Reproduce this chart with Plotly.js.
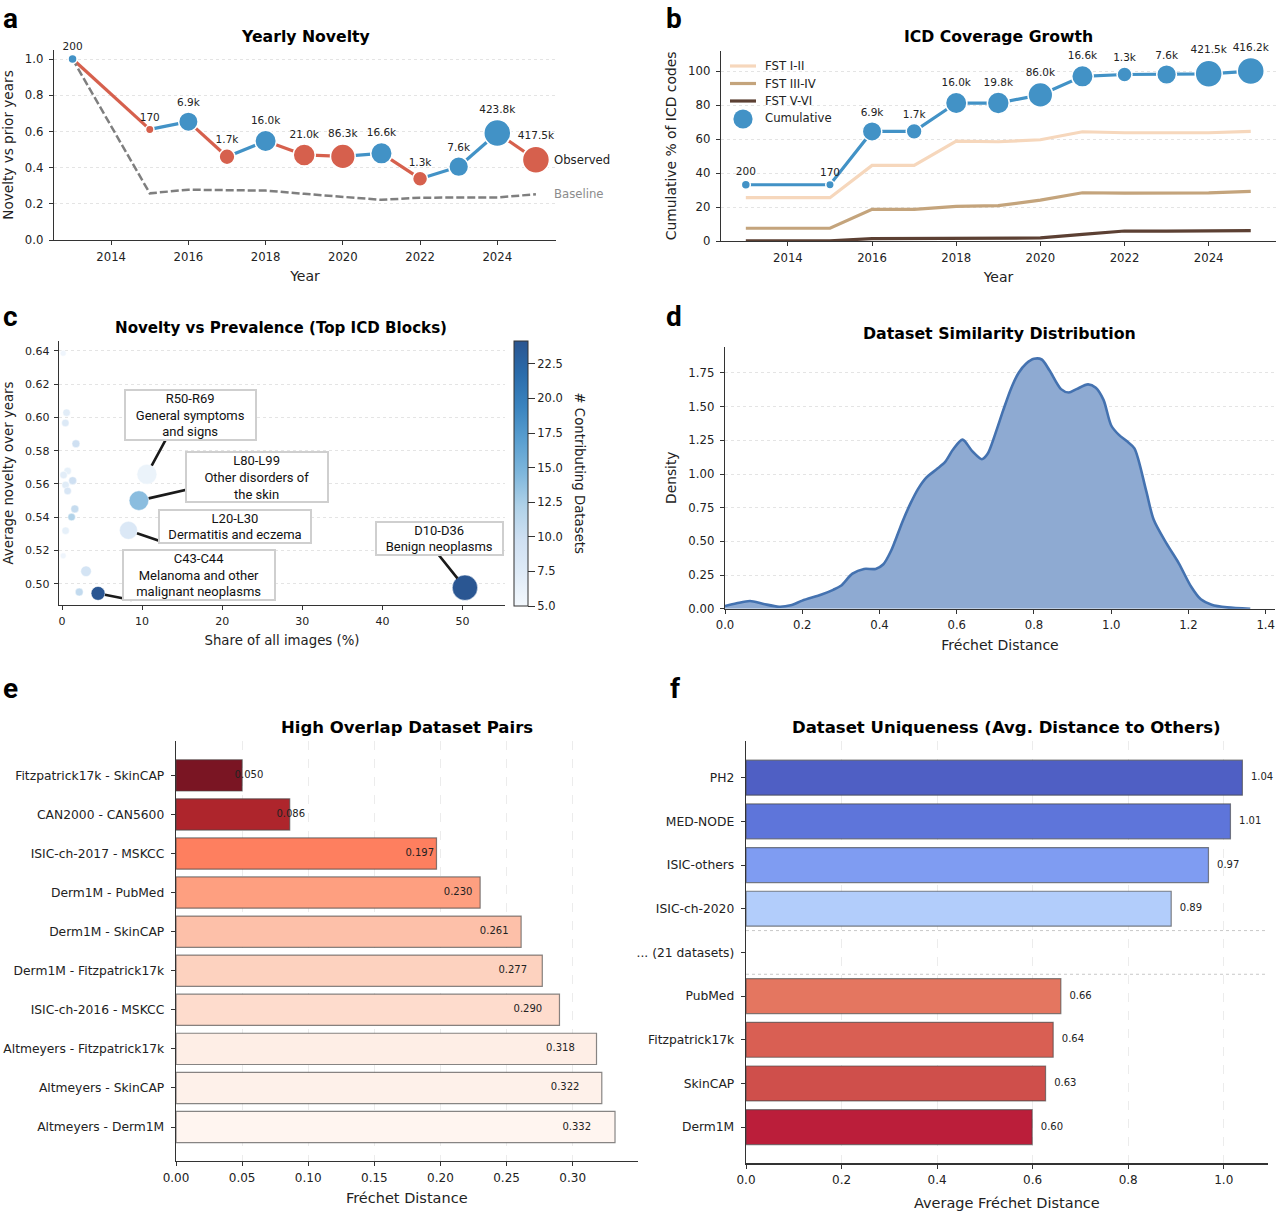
<!DOCTYPE html>
<html><head><meta charset="utf-8">
<script src="https://cdn.plot.ly/plotly-3.0.1.min.js"></script>
<style>html,body{margin:0;padding:0;background:#fff}#chart{width:1280px;height:1213px}</style>
</head><body><div id="chart"></div>
<script>
// ---------- data ----------
const noveltyYears = [2013,2015,2016,2017,2018,2019,2020,2021,2022,2023,2024,2025];
const noveltyObserved = [1.0,0.611,0.654,0.46,0.547,0.47,0.462,0.479,0.339,0.405,0.591,0.444];
const noveltyBaseline = [1.0,0.258,0.278,0.274,0.273,0.255,0.238,0.222,0.234,0.234,0.235,0.253];
const noveltyCounts = ['200','170','6.9k','1.7k','16.0k','21.0k','86.3k','16.6k','1.3k','7.6k','423.8k','417.5k'];

const coverageYears = [2013,2015,2016,2017,2018,2019,2020,2021,2022,2023,2024,2025];
const coverageCumulative = [33.1,33.1,64.5,64.5,81.2,81.2,86,96.9,98,98,98.4,100];
const coverageFst12 = [25.5,25.5,44.5,44.5,58.8,58.4,59.6,64.3,63.7,63.7,63.7,64.5];
const coverageFst34 = [7.5,7.5,18.6,18.6,20.4,20.8,24.1,28.4,28.2,28.2,28.3,29.2];
const coverageFst56 = [0.1,0.1,1.4,1.4,1.4,1.4,1.8,3.9,5.9,5.8,5.8,6.1];
const coverageCounts = ['200','170','6.9k','1.7k','16.0k','19.8k','86.0k','16.6k','1.3k','7.6k','421.5k','416.2k'];

const blockShare = [0.15,0.57,0.42,1.74,0.7,0.2,1.33,0.45,0.7,1.6,1.2,0.45,0.15,3.0,2.15,4.5,50.3,8.3,9.6,10.6];
const blockNovelty = [0.6386,0.6029,0.5967,0.5842,0.5678,0.5654,0.562,0.5594,0.5558,0.545,0.5401,0.5319,0.5168,0.5075,0.495,0.4942,0.4976,0.5321,0.55,0.5658];
const blockDatasets = [5.5,7.2,7.8,9.8,6.5,7,9.8,7.3,8.5,10.5,12,6.5,5.5,9,10.8,24,24,8,14,6];

const kdeX = [0,0.03,0.065,0.1,0.14,0.17,0.2,0.25,0.28,0.3,0.33,0.36,0.39,0.41,0.43,0.46,0.48,0.5,0.52,0.55,0.57,0.59,0.615,0.64,0.665,0.68,0.7,0.72,0.74,0.76,0.78,0.8,0.82,0.84,0.87,0.89,0.91,0.94,0.96,0.98,1.0,1.02,1.04,1.06,1.09,1.11,1.143,1.175,1.207,1.232,1.26,1.3,1.36];
const kdeY = [0.02,0.04,0.057,0.035,0.015,0.025,0.06,0.105,0.14,0.17,0.26,0.295,0.295,0.33,0.43,0.65,0.78,0.89,0.97,1.04,1.09,1.18,1.255,1.17,1.11,1.15,1.30,1.47,1.63,1.75,1.82,1.855,1.85,1.77,1.63,1.605,1.63,1.665,1.64,1.55,1.36,1.29,1.245,1.19,0.88,0.66,0.485,0.337,0.163,0.07,0.03,0.01,0];

const pairNames = ['Fitzpatrick17k - SkinCAP','CAN2000 - CAN5600','ISIC-ch-2017 - MSKCC','Derm1M - PubMed','Derm1M - SkinCAP','Derm1M - Fitzpatrick17k','ISIC-ch-2016 - MSKCC','Altmeyers - Fitzpatrick17k','Altmeyers - SkinCAP','Altmeyers - Derm1M'];
const pairDistance = [0.050,0.086,0.197,0.230,0.261,0.277,0.290,0.318,0.322,0.332];

const datasetNames = ['PH2','MED-NODE','ISIC-others','ISIC-ch-2020','... (21 datasets)','PubMed','Fitzpatrick17k','SkinCAP','Derm1M'];
const datasetDistance = [1.039,1.014,0.968,0.89,null,0.659,0.643,0.627,0.599];
const datasetLabels = ['1.04','1.01','0.97','0.89','','0.66','0.64','0.63','0.60'];

const legendNames = ['FST I-II','FST III-IV','FST V-VI','Cumulative'];

// ---------- styles ----------
const FONT = 'DejaVu Sans', INK = '#222';
const RED = '#d6604d', BLUE = '#4292c6';
const fstColors = ['#f6d7bc','#c4a47c','#5c4033'];
const pairColors = ['#7a1523','#ae252c','#fe7f5f','#fe9f80','#fdc0a9','#fdd2bf','#fedccd','#feeee6','#fef1ea','#fff5f0'];
const datasetColors = ['#4f5fc4','#5e75da','#7f9cf2','#b2cdfb','#fff','#e47660','#d95f53','#cf4f4b','#bb1e3a'];
const bubblePx = [6,7.5,7.5,8,7.5,7.5,8,7.5,7.5,8,7.5,7.5,6,10.6,8,13.9,25.3,18,19.6,20];
const blues = [[0,'#f3f8fd'],[0.125,'#dfebf7'],[0.25,'#cfe0f2'],[0.375,'#b0d2e8'],[0.5,'#7fb7dc'],[0.625,'#5a9fd0'],[0.75,'#3b84bf'],[0.875,'#2a6cab'],[1,'#2a5590']];

// ---------- helpers ----------
const W = 1280, H = 1213;
const dx = (a,b) => [a/W, b/W];
const dy = (top,bot) => [1-bot/H, 1-top/H];
const px = v => v/W, py = v => 1-v/H;
const countOf = s => s.endsWith('k') ? parseFloat(s)*1000 : parseFloat(s);
function markerPx(s){ const L = Math.log10(countOf(s)); return 9 + 6.53*(L-2.3) - 0.78*(L-2.3)*(L-4.2); }
const tickFont = s => ({family:FONT,size:s,color:INK});
const titleOf = (t,s,standoff) => ({text:t,font:{family:FONT,size:s,color:INK},standoff});
const axisBase = {showline:true,linecolor:'#333',linewidth:1.3,ticks:'outside',ticklen:4,tickwidth:1,tickcolor:'#333',zeroline:false,mirror:false,showgrid:false,automargin:false};
const gridOn = {showgrid:true,gridcolor:'#e4e4e4',gridwidth:1,griddash:'dot'};
const gridX = {showgrid:true,gridcolor:'#ececec',gridwidth:1,griddash:'dash'};

const traces = [];
// ----- a -----
for(let i=0;i<noveltyYears.length-1;i++){
  traces.push({type:'scatter',mode:'lines',xaxis:'x',yaxis:'y',showlegend:false,hoverinfo:'skip',
    x:[noveltyYears[i],noveltyYears[i+1]],y:[noveltyObserved[i],noveltyObserved[i+1]],
    line:{color:noveltyObserved[i+1]>noveltyObserved[i]?BLUE:RED,width:3.2}});
}
traces.push({type:'scatter',mode:'lines',xaxis:'x',yaxis:'y',showlegend:false,name:'Baseline',x:noveltyYears,y:noveltyBaseline,line:{color:'#7f7f7f',width:2.5,dash:'8px,3px'}});
traces.push({type:'scatter',mode:'markers+text',xaxis:'x',yaxis:'y',showlegend:false,name:'Observed',cliponaxis:false,
  x:noveltyYears,y:noveltyObserved,text:noveltyCounts,textposition:'top center',textfont:{family:FONT,size:10.5,color:INK},
  marker:{opacity:1,size:noveltyCounts.map(markerPx),color:noveltyObserved.map((v,i)=>i===0||v>noveltyObserved[i-1]?BLUE:RED),line:{color:'#fff',width:1.5}}});
// ----- b -----
[['FST I-II',coverageFst12],['FST III-IV',coverageFst34],['FST V-VI',coverageFst56]].forEach(([n,v],i)=>{
  traces.push({type:'scatter',mode:'lines',xaxis:'x2',yaxis:'y2',showlegend:false,name:n,x:coverageYears,y:v,line:{color:fstColors[i],width:3.2}});
});
traces.push({type:'scatter',mode:'lines+markers+text',xaxis:'x2',yaxis:'y2',showlegend:false,name:'Cumulative',cliponaxis:false,
  x:coverageYears,y:coverageCumulative,text:coverageCounts,textposition:'top center',textfont:{family:FONT,size:10.5,color:INK},
  line:{color:BLUE,width:3.2},marker:{opacity:1,size:coverageCounts.map(markerPx),color:BLUE,line:{color:'#fff',width:1.5}}});
// ----- c -----
traces.push({type:'scatter',mode:'markers',xaxis:'x3',yaxis:'y3',showlegend:false,cliponaxis:false,x:blockShare,y:blockNovelty,
  marker:{opacity:1,size:bubblePx,color:blockDatasets,cmin:5,cmax:24.15,colorscale:blues,line:{color:'#fff',width:0.5},
    colorbar:{x:px(514),xanchor:'left',y:py(341),yanchor:'top',lenmode:'pixels',len:264.5,thicknessmode:'pixels',thickness:14,xpad:0,ypad:0,
      outlinecolor:'#333',outlinewidth:1,ticks:'outside',ticklen:7,tickcolor:'#333',tick0:5,dtick:2.5,tickformat:'.1f',tickfont:tickFont(11.5)}}});
// ----- d -----
traces.push({type:'scatter',mode:'lines',xaxis:'x4',yaxis:'y4',showlegend:false,x:kdeX,y:kdeY,fill:'tozeroy',fillcolor:'#8eaad2',line:{color:'#4472b0',width:2.6,shape:'spline',smoothing:0.8}});
// ----- e -----
const pairIdx = pairNames.map((_,i)=>i);
traces.push({type:'bar',orientation:'h',xaxis:'x5',yaxis:'y5',showlegend:false,x:pairDistance,y:pairIdx,width:0.8,
  marker:{color:pairColors,line:{color:'rgba(70,70,70,0.65)',width:1.2}}});
traces.push({type:'scatter',mode:'text',xaxis:'x5',yaxis:'y5',showlegend:false,cliponaxis:false,
  x:pairDistance.map(v=>v*0.879+0.0112),y:pairIdx,text:pairDistance.map(v=>v.toFixed(3)),textposition:'middle center',textfont:{family:FONT,size:10,color:INK}});
// ----- f -----
const datasetIdx = datasetNames.map((_,i)=>i);
traces.push({type:'bar',orientation:'h',xaxis:'x6',yaxis:'y6',showlegend:false,x:datasetDistance,y:datasetIdx,width:0.8,
  marker:{color:datasetColors,line:{color:'rgba(70,70,70,0.65)',width:1.2}}});
traces.push({type:'scatter',mode:'text',xaxis:'x6',yaxis:'y6',showlegend:false,cliponaxis:false,
  x:datasetDistance.map(v=>v===null?null:v+0.018),y:datasetIdx,text:datasetLabels,textposition:'middle right',textfont:{family:FONT,size:10,color:INK}});

// ---------- annotations ----------
const anns = [];
[['a',1,18],['b',664,18],['c',1,316],['d',664,316],['e',1,688],['f',668,688]].forEach(([t,x,y])=>{
  anns.push({text:t,xref:'paper',yref:'paper',x:px(x),y:py(y),xanchor:'left',yanchor:'middle',showarrow:false,font:{family:'Roboto',size:28,color:'#000',weight:'bold'}});
});
[['Yearly Novelty',305,37,15.7],['ICD Coverage Growth',998,37,15.7],['Novelty vs Prevalence (Top ICD Blocks)',281,328,15.1],['Dataset Similarity Distribution',999,333,15.8],['High Overlap Dataset Pairs',407,727,16.5],['Dataset Uniqueness (Avg. Distance to Others)',1006,727,16.5]].forEach(([t,x,y,s])=>{
  anns.push({text:t,xref:'paper',yref:'paper',x:px(x),y:py(y),xanchor:'center',yanchor:'middle',showarrow:false,font:{family:FONT,size:s,color:'#000',weight:'bold'}});
});
const last = noveltyYears.length-1;
anns.push({text:'Observed',xref:'x',yref:'y',x:2025.42,y:noveltyObserved[last],xanchor:'left',yanchor:'middle',showarrow:false,font:{family:FONT,size:11.7,color:'#222'}});
anns.push({text:'Baseline',xref:'x',yref:'y',x:2025.42,y:noveltyBaseline[last],xanchor:'left',yanchor:'middle',showarrow:false,font:{family:FONT,size:11.7,color:'#8c8c8c'}});
// colorbar title
anns.push({text:'# Contributing Datasets',xref:'paper',yref:'paper',x:px(579.5),y:py(473),xanchor:'center',yanchor:'middle',textangle:90,showarrow:false,font:{family:FONT,size:13.3,color:INK}});
// connector lines then label boxes of panel c
[[19,32,-59,10],[18,61,-14,10],[17,35,12,9],[15,35,7,7],[16,-32,-40,12]].forEach(([i,ax,ay,st])=>{
  anns.push({text:'',xref:'x3',yref:'y3',x:blockShare[i],y:blockNovelty[i],ax,ay,showarrow:true,arrowhead:0,arrowwidth:2.6,arrowcolor:'#1a1a1a',standoff:st});
});
[['R50-R69<br>General symptoms<br>and signs',123.7,256.3,389,441],['L80-L99<br>Other disorders of<br>the skin',185,328.6,451,503.3],['L20-L30<br>Dermatitis and eczema',158,312,509.3,544.3],['C43-C44<br>Melanoma and other<br>malignant neoplasms',122,275.5,548.7,600.7],['D10-D36<br>Benign neoplasms',375.5,504,520.7,555.7]].forEach(([t,x0,x1,y0,y1])=>{
  anns.push({text:t,xref:'paper',yref:'paper',x:px((x0+x1)/2),y:py((y0+y1)/2),xanchor:'center',yanchor:'middle',width:x1-x0-4,height:y1-y0-4,
    showarrow:false,bgcolor:'#fff',bordercolor:'#cfcfcf',borderwidth:2,borderpad:0,valign:'middle',align:'center',font:{family:'Roboto',size:13,color:'#111'}});
});
// legend of panel b
const legendRows = [66,83.5,101,118];
legendNames.forEach((n,i)=>{
  anns.push({text:n,xref:'paper',yref:'paper',x:px(763),y:py(legendRows[i]),xanchor:'left',yanchor:'middle',showarrow:false,font:{family:FONT,size:11.7,color:INK}});
});
const shapes = [3.5,4.5].map(v=>({type:'line',xref:'x6',yref:'y6',x0:0,x1:1.09,y0:v,y1:v,line:{color:'#c8c8c8',width:1,dash:'dot'},layer:'below'}));
fstColors.forEach((c,i)=>shapes.push({type:'line',xref:'paper',yref:'paper',x0:px(730),x1:px(756),y0:py(legendRows[i]),y1:py(legendRows[i]),line:{color:c,width:3.2}}));
shapes.push({type:'circle',xref:'paper',yref:'paper',x0:px(733.4),x1:px(752.6),y0:py(109.4),y1:py(128.6),fillcolor:BLUE,line:{width:0}});

const layout = {
  width:W,height:H,margin:{l:0,r:0,t:0,b:0},paper_bgcolor:'#fff',plot_bgcolor:'rgba(0,0,0,0)',font:{family:FONT,color:INK},
  hovermode:false,showlegend:false,
  xaxis:{...axisBase,ticklabelstandoff:2,domain:dx(54,556),range:[2012.52,2025.52],anchor:'y',tick0:2014,dtick:2,tickfont:tickFont(11.7),title:titleOf('Year',14,8)},
  yaxis:{...axisBase,...gridOn,ticklabelstandoff:3,domain:dy(50,240),range:[0,1.05],anchor:'x',tick0:0,dtick:0.2,tickformat:'.1f',tickfont:tickFont(11.7),title:titleOf('Novelty vs prior years',13.6,8)},
  xaxis2:{...axisBase,ticklabelstandoff:2,domain:dx(721,1276),range:[2012.41,2025.6],anchor:'y2',tick0:2014,dtick:2,tickfont:tickFont(11.7),title:titleOf('Year',14,8)},
  yaxis2:{...axisBase,...gridOn,ticklabelstandoff:3,domain:dy(50.7,241),range:[0,112],anchor:'x2',tick0:0,dtick:20,tickfont:tickFont(11.7),title:titleOf('Cumulative % of ICD codes',13.9,8)},
  xaxis3:{...axisBase,ticklabelstandoff:1,domain:dx(59,505),range:[-0.375,55.3],anchor:'y3',tick0:0,dtick:10,tickfont:tickFont(11),title:titleOf('Share of all images (%)',13.3,9)},
  yaxis3:{...axisBase,...gridOn,ticklabelstandoff:2,domain:dy(341,605),range:[0.4872,0.646],anchor:'x3',tick0:0.5,dtick:0.02,tickformat:'.2f',tickfont:tickFont(11),title:titleOf('Average novelty over years',13.3,8)},
  xaxis4:{...axisBase,ticklabelstandoff:1,domain:dx(725,1275),range:[0,1.424],anchor:'y4',tick0:0,dtick:0.2,tickformat:'.1f',tickfont:tickFont(11.7),title:titleOf('Fréchet Distance',14,9)},
  yaxis4:{...axisBase,...gridOn,ticklabelstandoff:3,domain:dy(346.7,608.7),range:[0,1.945],anchor:'x4',tick0:0,dtick:0.25,tickformat:'.2f',tickfont:tickFont(11.7),title:titleOf('Density',13.8,8)},
  xaxis5:{...axisBase,...gridX,ticklabelstandoff:1,domain:dx(176,637.5),range:[0,0.349],anchor:'y5',tick0:0,dtick:0.05,tickformat:'.2f',tickfont:tickFont(12),title:titleOf('Fréchet Distance',14.5,9)},
  yaxis5:{...axisBase,ticklabelstandoff:4,domain:dy(741,1161),range:[9.87,-0.88],anchor:'x5',tickmode:'array',tickvals:pairIdx,ticktext:pairNames,tickfont:tickFont(12.3)},
  xaxis6:{...axisBase,...gridX,ticklabelstandoff:1,domain:dx(746,1267.7),range:[0,1.092],anchor:'y6',tick0:0,dtick:0.2,tickformat:'.1f',tickfont:tickFont(12),title:titleOf('Average Fréchet Distance',14.5,11)},
  yaxis6:{...axisBase,ticklabelstandoff:4,domain:dy(741,1163.4),range:[8.83,-0.84],anchor:'x6',tickmode:'array',tickvals:datasetIdx,ticktext:datasetNames,tickfont:tickFont(12.3)},
  shapes,
  annotations:anns
};
Plotly.newPlot('chart',traces,layout,{displayModeBar:false,staticPlot:true});
</script></body></html>
